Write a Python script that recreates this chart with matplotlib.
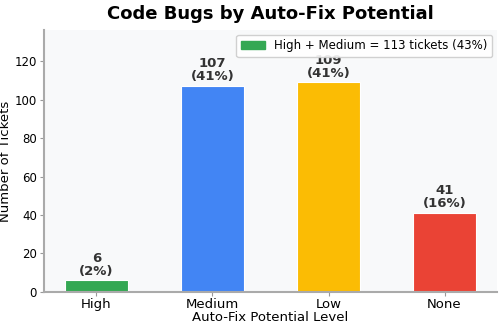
import matplotlib

matplotlib.use("Agg")
import matplotlib.pyplot as plt
from matplotlib.patches import Patch

levels = ["High", "Medium", "Low", "None"]
counts = [6, 107, 109, 41]
colors = ["#34a853", "#4285f4", "#fbbc04", "#ea4335"]
total = sum(counts)


def main():
    fig = plt.figure(figsize=(5, 3.28), dpi=100)
    ax = fig.add_axes([0.088, 0.11, 0.906, 0.7985])
    ax.set_facecolor("#f8f9fa")

    bars = ax.bar(levels, counts, width=0.55, color=colors,
                  edgecolor="white", linewidth=0.8)
    for bar, n in zip(bars, counts):
        ax.text(bar.get_x() + bar.get_width() / 2, n + 1.5,
                f"{n}\n({n / total:.0%})", ha="center", va="bottom",
                fontsize=9.5, fontweight="bold", color="#333333",
                linespacing=1.0)

    ax.set_ylim(0, max(counts) * 1.25)
    ax.set_yticks(range(0, 121, 20))
    ax.set_title("Code Bugs by Auto-Fix Potential", fontsize=13,
                 fontweight="bold", pad=8)
    ax.set_xlabel("Auto-Fix Potential Level", fontsize=9.5, labelpad=0)
    ax.set_ylabel("Number of Tickets", fontsize=9.5, labelpad=2)
    ax.tick_params(axis="x", labelsize=9.5, length=3, pad=1.5, color="#999999")
    ax.tick_params(axis="y", labelsize=8.5, length=3, pad=2, color="#999999")

    for side in ("top", "right"):
        ax.spines[side].set_visible(False)
    for side in ("left", "bottom"):
        ax.spines[side].set_color("#aaaaaa")
        ax.spines[side].set_linewidth(1.5)

    hm = counts[0] + counts[1]
    handle = Patch(color=colors[0])
    leg = ax.legend([handle], [f"High + Medium = {hm} tickets ({hm / total:.0%})"],
                    loc="upper right", fontsize=8.5, framealpha=0.9,
                    borderaxespad=0.4)
    leg.set_zorder(5)

    fig.savefig("out.png")


if __name__ == "__main__":
    main()
